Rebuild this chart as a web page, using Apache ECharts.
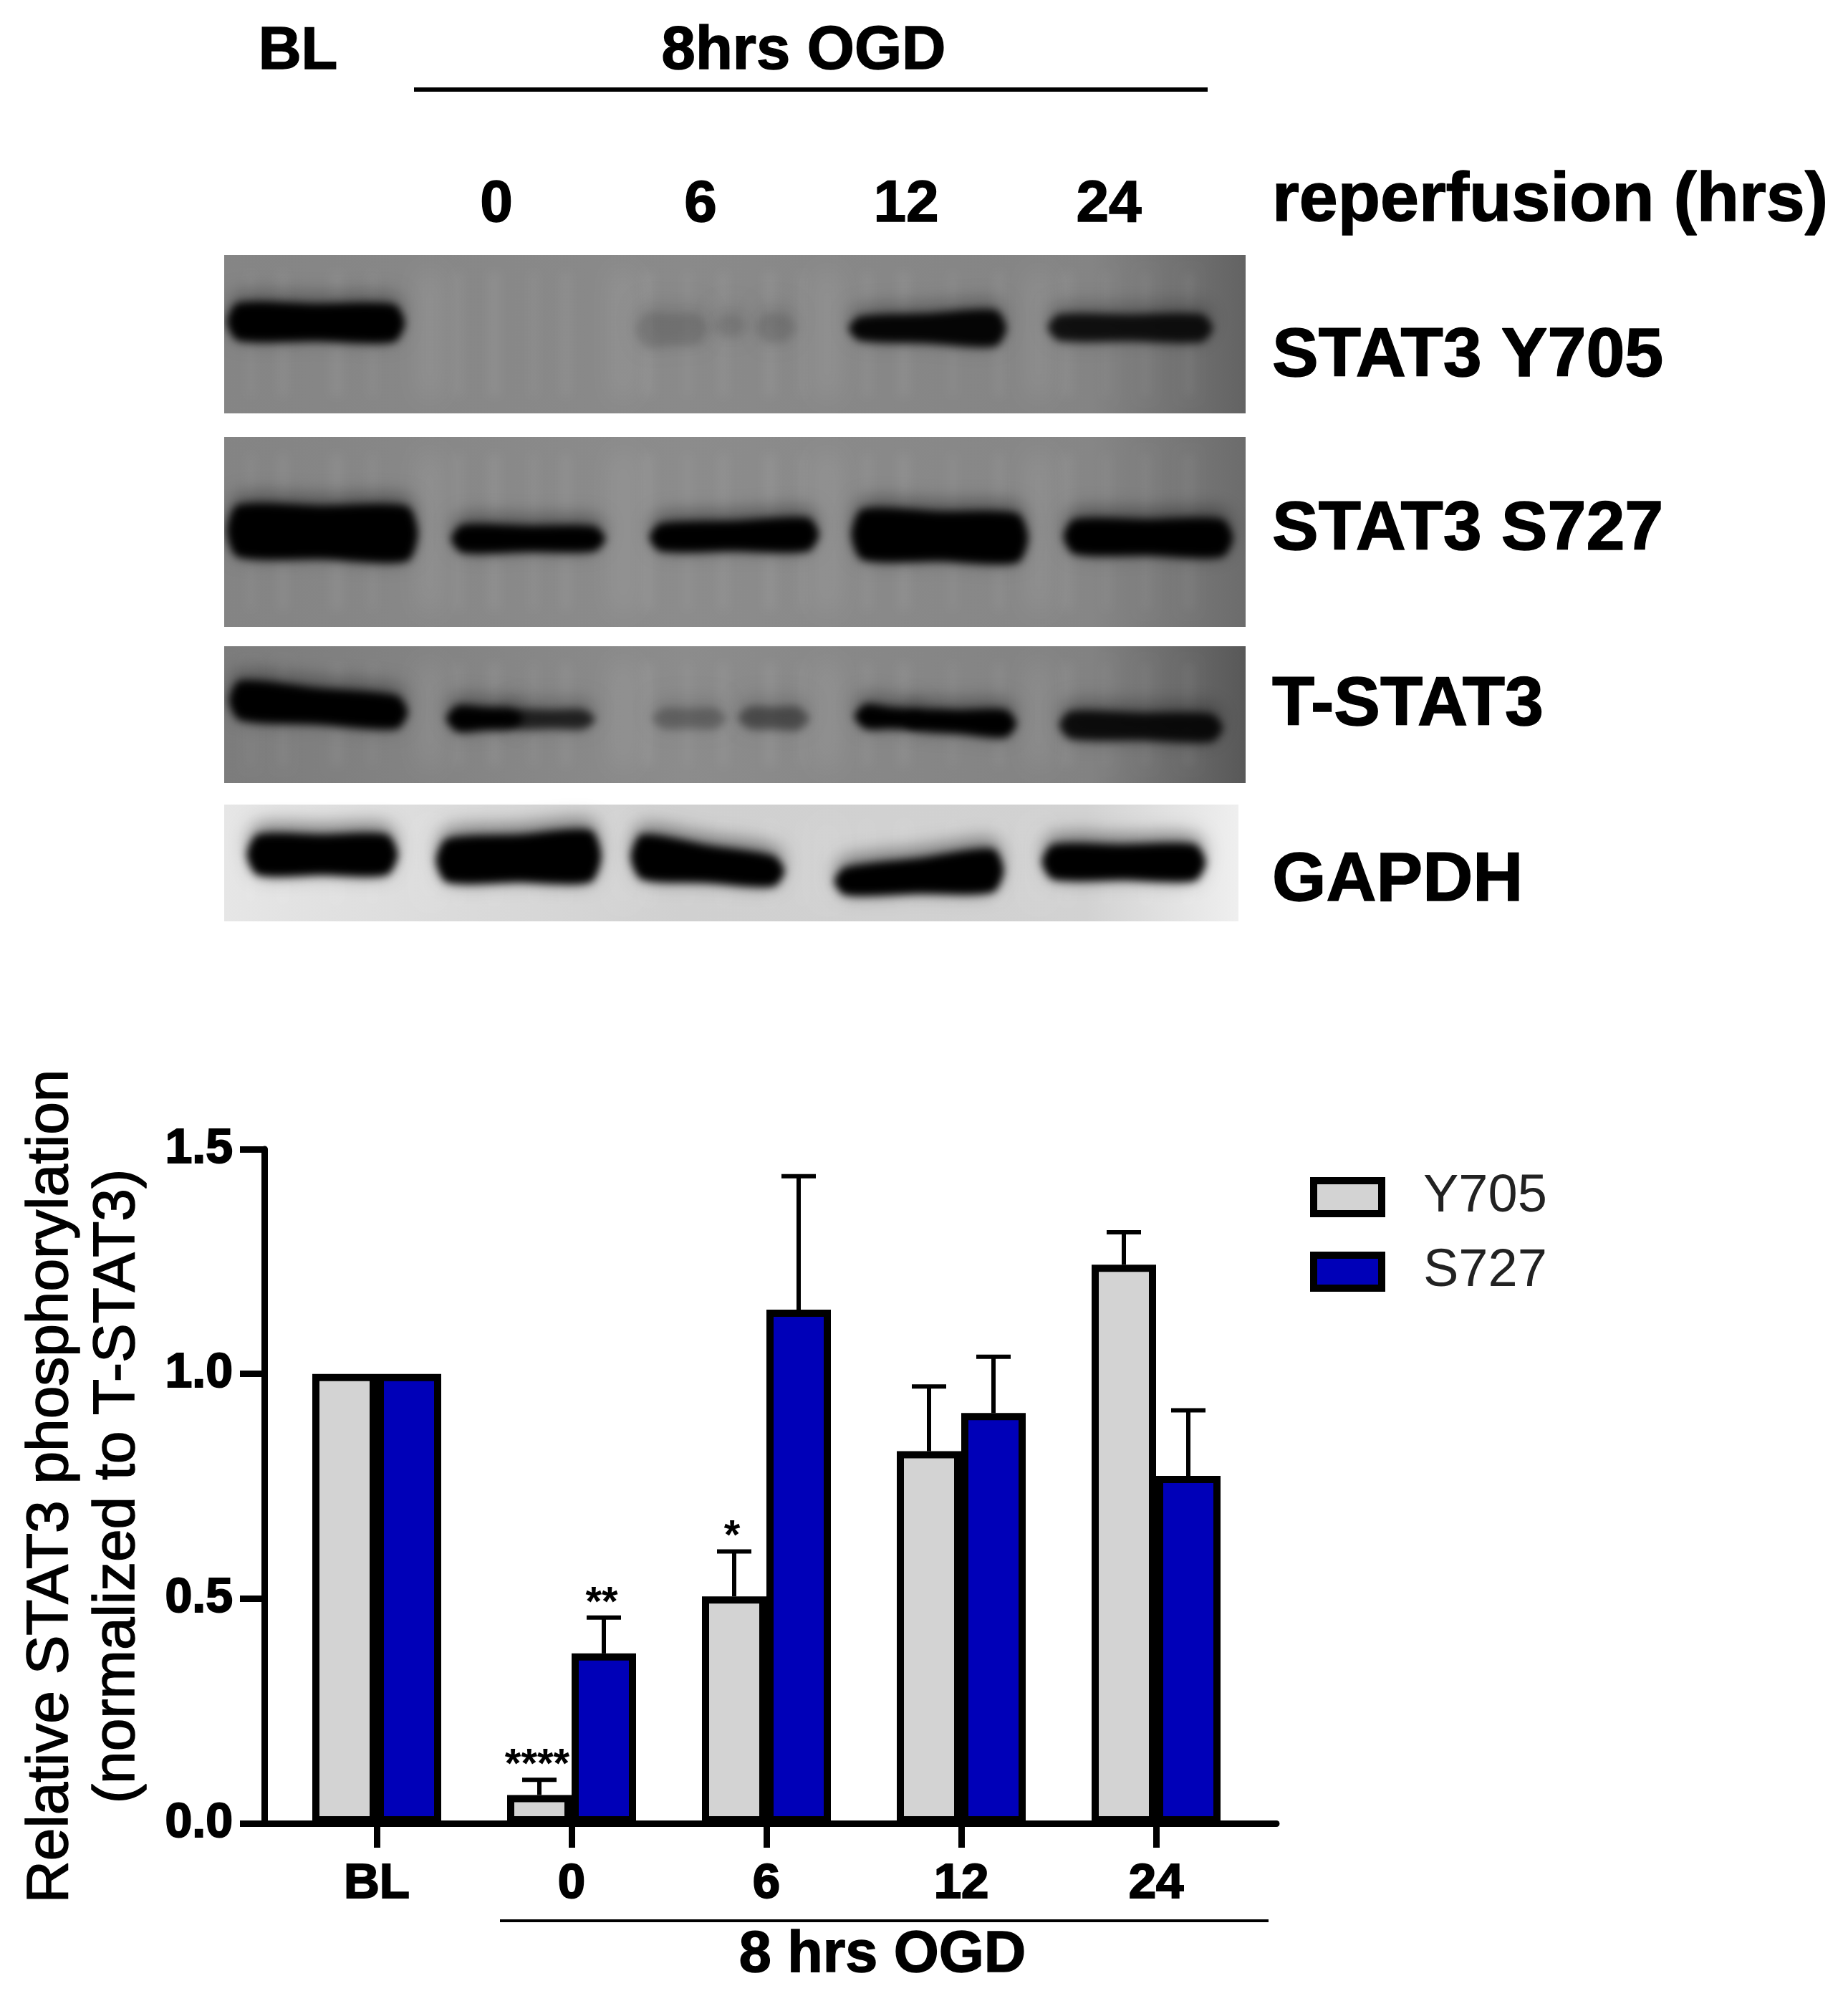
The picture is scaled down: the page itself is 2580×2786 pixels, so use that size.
<!DOCTYPE html>
<html><head><meta charset="utf-8">
<style>html,body{margin:0;padding:0;background:#fff}#c{width:2580px;height:2786px}</style>
<script src="https://cdn.jsdelivr.net/npm/echarts@6/dist/echarts.min.js"></script>
</head><body><div id="c"></div>
<script>
// ---- chart data ----
const categories = ['BL', '0', '6', '12', '24'];
const y705Values = [1.0, 0.063, 0.505, 0.828, 1.243];
const s727Values = [1.0, 0.378, 1.143, 0.913, 0.773];
const y705Upper = [null, 0.097, 0.605, 0.972, 1.315];
const s727Upper = [null, 0.458, 1.44, 1.038, 0.919];
const y705Sig = ['', '****', '*', '', ''];
const s727Sig = ['', '**', '', '', ''];
const yTicks = [0, 0.5, 1.0, 1.5];
const laneLabels = ['0', '6', '12', '24'];
const blotNames = ['STAT3 Y705', 'STAT3 S727', 'T-STAT3', 'GAPDH'];

// ---- blot picture: each band is [intensity, x0, x1, yTopL, yBotL, yTopR, yBotR] ----
const bandsY705 = [
  [1, 322, 560, 428, 470, 430, 472], [0.11, 892, 985, 442, 480, 444, 476], [0.08, 1000, 1040, 446, 466, 446, 466], [0.1, 1060, 1108, 442, 474, 444, 472],
  [0.95, 1190, 1400, 447, 470, 438, 478], [0.85, 1468, 1688, 444, 470, 444, 472]];
const bandsS727 = [
  [1, 322, 578, 710, 772, 712, 778], [1, 635, 840, 738, 766, 740, 764],
  [1, 912, 1138, 736, 764, 728, 764], [1, 1194, 1430, 716, 776, 722, 780], [1, 1490, 1716, 730, 768, 730, 772]];
const bandsTotal = [
  [1, 325, 564, 955, 1000, 976, 1012], [1, 628, 725, 990, 1016, 994, 1012], [0.7, 712, 826, 996, 1012, 996, 1012],
  [0.25, 915, 1010, 994, 1012, 994, 1012], [0.4, 1035, 1125, 992, 1012, 992, 1014],
  [1, 1198, 1285, 988, 1012, 996, 1012], [1, 1268, 1414, 996, 1014, 996, 1024], [0.88, 1484, 1702, 998, 1026, 1002, 1030]];
const bandsGapdh = [
  [1, 350, 550, 1170, 1216, 1170, 1216], [1, 614, 834, 1176, 1226, 1164, 1226],
  [1, 886, 1090, 1170, 1222, 1200, 1232], [1, 1170, 1396, 1216, 1244, 1190, 1240], [1, 1460, 1678, 1184, 1222, 1184, 1224]];
const panels = [
  {x0: 313, x1: 1739, y0: 356, y1: 577, stops: ['#858585', '#8a8a8a', '#848484', '#636363'], bands: bandsY705, halo: 0.3},
  {x0: 313, x1: 1739, y0: 610, y1: 875, stops: ['#848484', '#8c8c8c', '#868686', '#6c6c6c'], bands: bandsS727, halo: 0.36},
  {x0: 313, x1: 1739, y0: 902, y1: 1093, stops: ['#7c7c7c', '#8c8c8c', '#828282', '#585858'], bands: bandsTotal, halo: 0.34},
  {x0: 313, x1: 1729, y0: 1123, y1: 1286, stops: ['#e6e6e6', '#d0d0d0', '#d2d2d2', '#efefef'], bands: bandsGapdh, halo: 0.42}
];
const laneGapX = [600, 870, 1155, 1450];
const grainX = [350, 395, 470, 520, 640, 690, 745, 790, 905, 960, 1010, 1075, 1120, 1210, 1262, 1330, 1395, 1490, 1545, 1600, 1660];

// ---- layout ----
const FONT = '"Liberation Sans", Arial, sans-serif';
const BAR_W = 90, BAR_STROKE = 10, BAR_OFFSET = 45, CAP_HALF = 24;
const yMin = 0, yMax = 1.5;
const plotTop = 1604, plotBottom = 2545;

const bold = (text, x, y, size, align) => ({
  type: 'text', z: 50, style: {text, x, y, font: `bold ${size}px ${FONT}`, fill: '#000', stroke: '#000', lineWidth: 1.5,
    textAlign: align || 'center', textVerticalAlign: 'middle'}
});
const rule = (x1, x2, y, w) => ({type: 'line', z: 50, shape: {x1, y1: y, x2, y2: y}, style: {stroke: '#000', lineWidth: w}});
const blotRowY = [498, 740, 985, 1230];
const laneX = [693, 978, 1265, 1548];

const graphic = [
  bold('BL', 416, 73, 83), bold('8hrs OGD', 1122, 73, 85), rule(578, 1686, 125, 6),
  ...laneLabels.map((t, i) => bold(t, laneX[i], 286, 82)),
  bold('reperfusion (hrs)', 1776, 281, 97, 'left'),
  ...blotNames.map((t, i) => bold(t, 1776, blotRowY[i], 97, 'left')),
  rule(698, 1771, 2681, 4),
  bold('8 hrs OGD', 1232, 2730, 81)
];

function renderBlot(params, api) {
  const p = panels[api.value(0)];
  const pt = (x, y) => api.coord([x, y]);
  const OFF = 5000;
  const tl = pt(p.x0, p.y0), br = pt(p.x1, p.y1);
  const kids = [{
    type: 'rect', shape: {x: tl[0], y: tl[1], width: br[0] - tl[0], height: br[1] - tl[1]},
    style: {fill: {type: 'linear', x: 0, y: 0, x2: 1, y2: 0, colorStops: [
      {offset: 0, color: p.stops[0]}, {offset: 0.45, color: p.stops[1]},
      {offset: 0.85, color: p.stops[2]}, {offset: 1, color: p.stops[3]}]}}
  }];
  const streak = (x, w, alpha, blur) => {
    const a = pt(x - w, p.y0 + 24), b = pt(x + w, p.y1 - 24);
    kids.push({type: 'rect', shape: {x: a[0] - OFF, y: a[1], width: b[0] - a[0], height: b[1] - a[1]},
      style: {fill: '#fff', shadowColor: `rgba(255,255,255,${alpha})`, shadowBlur: blur, shadowOffsetX: OFF}});
  };
  laneGapX.forEach(x => streak(x, 12, 0.1, 34));
  grainX.forEach((x, i) => streak(x, 4 + (i % 3) * 2, 0.05, 14));
  p.bands.forEach(b => {
    const [v, x0, x1, tL, bL, tR, bR] = b;
    const xm = (x0 + x1) / 2;
    const blob = (e, lift) => [
      [x0 - e, (tL + bL) / 2 - lift], [x0 + 10, tL - e - lift], [xm, (tL + tR) / 2 - e - lift],
      [x1 - 10, tR - e - lift], [x1 + e, (tR + bR) / 2 - lift], [x1 - 10, bR + e],
      [xm, (bL + bR) / 2 + e], [x0 + 10, bL + e]
    ].map(q => { const c = pt(q[0], q[1]); return [c[0] - OFF, c[1]]; });
    kids.push({type: 'polygon', shape: {points: blob(4, 16), smooth: 0.25},
      style: {fill: '#000', shadowColor: `rgba(0,0,0,${p.halo * Math.max(v, 0.3)})`, shadowBlur: 24, shadowOffsetX: OFF}});
    kids.push({type: 'polygon', shape: {points: blob(5, 0), smooth: 0.25},
      style: {fill: '#000', shadowColor: `rgba(0,0,0,${v})`, shadowBlur: 12, shadowOffsetX: OFF}});
  });
  // white margins that trim the blur at the panel edges
  const m1 = pt(p.x0 - 40, p.y0 - 10), m2 = pt(p.x0, p.y1 + 10);
  const m3 = pt(p.x1, p.y0 - 10), m4 = pt(p.x1 + 30, p.y1 + 10);
  kids.push({type: 'rect', shape: {x: m1[0], y: m1[1], width: m2[0] - m1[0], height: m2[1] - m1[1]}, style: {fill: '#fff'}});
  kids.push({type: 'rect', shape: {x: m3[0], y: m3[1], width: m4[0] - m3[0], height: m4[1] - m3[1]}, style: {fill: '#fff'}});
  return {type: 'group', children: kids};
}

function errorBars(upper, values, sig, dx) {
  return (params, api) => {
    const i = api.value(0);
    if (upper[i] == null) return {type: 'group', children: []};
    const top = api.coord([i, upper[i]]);
    const base = api.coord([i, values[i]]);
    const x = top[0] + dx;
    const kids = [
      {type: 'line', shape: {x1: x, y1: base[1], x2: x, y2: top[1]}, style: {stroke: '#000', lineWidth: 6}},
      {type: 'line', shape: {x1: x - CAP_HALF, y1: top[1], x2: x + CAP_HALF, y2: top[1]}, style: {stroke: '#000', lineWidth: 6}}
    ];
    if (sig[i]) kids.push({type: 'text', style: {text: sig[i], x: x - 3, y: top[1] + 10,
      font: `bold 58px ${FONT}`, fill: '#000', textAlign: 'center', textVerticalAlign: 'bottom'}});
    return {type: 'group', children: kids};
  };
}

const chart = echarts.init(document.getElementById('c'), null, {renderer: 'canvas'});
chart.setOption({
  animation: false,
  backgroundColor: '#fff',
  graphic,
  grid: [
    {left: 369, width: 1413, top: plotTop, height: plotBottom - plotTop, containLabel: false, outerBoundsMode: 'none'},
    {left: 390, width: 1360, top: plotTop, height: plotBottom - plotTop, containLabel: false, outerBoundsMode: 'none'},
    {left: 0, top: 0, width: 2580, height: 2786, containLabel: false, outerBoundsMode: 'none'}
  ],
  legend: {
    data: ['Y705', 'S727'], orient: 'vertical', left: 1824, top: 1629, itemWidth: 95, itemHeight: 46, itemGap: 30,
    icon: 'rect', selectedMode: false,
    itemStyle: {borderWidth: 10, borderColor: '#000'},
    textStyle: {fontFamily: FONT, fontSize: 74, lineHeight: 74, color: '#222', padding: [0, 0, 0, 53]}
  },
  xAxis: [
    {gridIndex: 0, type: 'value', min: 0, max: 1, axisLine: {show: true, onZero: false, lineStyle: {color: '#000', width: 9}},
      axisTick: {show: false}, axisLabel: {show: false}, splitLine: {show: false}},
    {gridIndex: 1, type: 'category', data: categories, axisLine: {show: false},
      axisTick: {show: true, alignWithLabel: true, length: 34, lineStyle: {color: '#000', width: 9}},
      axisLabel: {margin: 50, fontFamily: FONT, fontWeight: 'bold', fontSize: 69, color: '#000', textBorderColor: '#000', textBorderWidth: 2}},
    {gridIndex: 2, type: 'value', min: 0, max: 2580, show: false}
  ],
  yAxis: [
    {gridIndex: 0, type: 'value', min: yMin, max: yMax, interval: 0.5,
      name: 'Relative STAT3 phosphorylation\n(normalized to T-STAT3)', nameLocation: 'middle', nameGap: 158, nameRotate: 90,
      nameTextStyle: {fontFamily: FONT, fontSize: 82, lineHeight: 93, color: '#000', textBorderColor: '#000', textBorderWidth: 1.5},
      axisLine: {show: true, lineStyle: {color: '#000', width: 9}},
      axisTick: {show: true, length: 34, lineStyle: {color: '#000', width: 9}},
      axisLabel: {margin: 44, padding: [10, 0, 0, 0], fontFamily: FONT, fontWeight: 'bold', fontSize: 68, color: '#000',
        textBorderColor: '#000', textBorderWidth: 2, formatter: v => yTicks.includes(v) ? v.toFixed(1) : ''},
      splitLine: {show: false}},
    {gridIndex: 1, type: 'value', min: yMin, max: yMax, show: false},
    {gridIndex: 2, type: 'value', min: 0, max: 2786, inverse: true, show: false}
  ],
  series: [
    {type: 'custom', name: 'blots', xAxisIndex: 2, yAxisIndex: 2, data: panels.map((_, i) => [i]), renderItem: renderBlot, silent: true, z: 1, clip: false},
    {type: 'custom', name: 'Y705 error', xAxisIndex: 1, yAxisIndex: 1, data: categories.map((_, i) => [i]), encode: {x: 0}, z: 3, silent: true,
      renderItem: errorBars(y705Upper, y705Values, y705Sig, -BAR_OFFSET)},
    {type: 'custom', name: 'S727 error', xAxisIndex: 1, yAxisIndex: 1, data: categories.map((_, i) => [i]), encode: {x: 0}, z: 3, silent: true,
      renderItem: errorBars(s727Upper, s727Values, s727Sig, BAR_OFFSET)},
    {type: 'bar', name: 'Y705', xAxisIndex: 1, yAxisIndex: 1, data: y705Values, barWidth: BAR_W, barGap: 0, z: 4,
      itemStyle: {color: '#d3d3d3', borderColor: '#000', borderWidth: BAR_STROKE}},
    {type: 'bar', name: 'S727', xAxisIndex: 1, yAxisIndex: 1, data: s727Values, barWidth: BAR_W, barGap: 0, z: 4,
      itemStyle: {color: '#0000b8', borderColor: '#000', borderWidth: BAR_STROKE}}
  ]
});
</script></body></html>
